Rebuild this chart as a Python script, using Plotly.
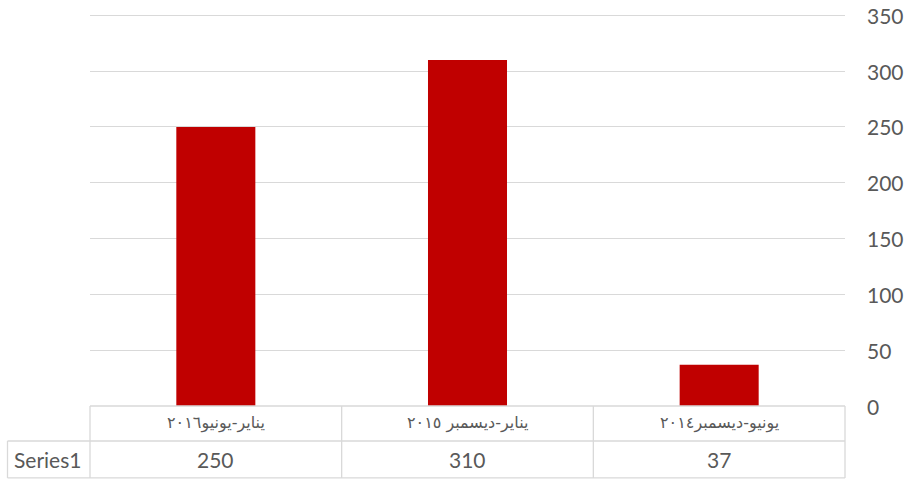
import plotly.graph_objects as go

categories = ["يونيو-ديسمبر٢٠١٤", "يناير-ديسمبر ٢٠١٥", "يناير-يونيو٢٠١٦"]
values = [37, 310, 250]
series_name = "Series1"
y_ticks = [0, 50, 100, 150, 200, 250, 300, 350]
y_max = 352

W, H = 909, 484
# reference pixel positions
left_px, right_px, bottom_px = 90, 845, 406
px_per_unit = (406 - 15) / 350
top_px = bottom_px - y_max * px_per_unit
L = left_px
R = W - right_px
T = top_px
B = H - bottom_px
plot_w = W - L - R
plot_h = H - T - B


def py(pix):
    return (bottom_px - pix) / plot_h


def px(pix):
    return (pix - left_px) / plot_w


grid = "#d9d9d9"
txt = "#595959"
num_font = dict(family="Lato, Calibri, sans-serif", size=21, color=txt)
ar_font = dict(family="DejaVu Sans, Noto Sans, sans-serif", size=16, color=txt)

fig = go.Figure(go.Bar(x=categories, y=values, marker_color="#c00000",
                       marker_line_width=0, name=series_name))

shapes = []
line = dict(color=grid, width=1.3)
shapes.append(dict(type="line", xref="paper", yref="paper", x0=0, x1=1, y0=0, y1=0, line=line))
for yp in (441, 478):
    shapes.append(dict(type="line", xref="paper", yref="paper", x0=px(7.5), x1=1,
                       y0=py(yp), y1=py(yp), line=line))
for xf in (0, 1/3, 2/3, 1):
    shapes.append(dict(type="line", xref="paper", yref="paper", x0=xf, x1=xf,
                       y0=0, y1=py(478), line=line))
shapes.append(dict(type="line", xref="paper", yref="paper", x0=px(7.5), x1=px(7.5),
                   y0=py(441), y1=py(478), line=line))

annotations = []
for c, v in zip(categories, values):
    annotations.append(dict(x=c, y=py(423), xref="x", yref="paper", text=c,
                            showarrow=False, font=ar_font, xanchor="center", yanchor="middle"))
    annotations.append(dict(x=c, y=py(460), xref="x", yref="paper", text=str(v),
                            showarrow=False, font=num_font, xanchor="center", yanchor="middle"))
annotations.append(dict(x=px(47), y=py(460), xref="paper", yref="paper", text=series_name,
                        showarrow=False, font=num_font, xanchor="center", yanchor="middle"))
# right-side value axis labels
for t in y_ticks:
    annotations.append(dict(x=px(865), y=t, xref="paper", yref="y", text=str(t),
                            showarrow=False, font=num_font, xanchor="left", yanchor="middle"))

fig.update_layout(
    width=W, height=H,
    autosize=False,
    margin=dict(l=L, r=R, t=T, b=B, autoexpand=False),
    paper_bgcolor="white", plot_bgcolor="white",
    bargap=0.686,
    showlegend=False,
    hovermode=False,
    shapes=shapes,
    annotations=annotations,
    xaxis=dict(autorange="reversed", showticklabels=False, showgrid=False,
               zeroline=False, showline=False, ticks="", automargin=False),
    yaxis=dict(side="right", range=[0, y_max], tickvals=y_ticks, showgrid=True,
               gridcolor=grid, gridwidth=1.3, zeroline=False, showline=False,
               ticks="", showticklabels=False, automargin=False),
)

fig.write_html("out.html",
               config={"displayModeBar": False},
               post_script="document.body.style.margin='0';document.body.style.overflow='hidden';")
